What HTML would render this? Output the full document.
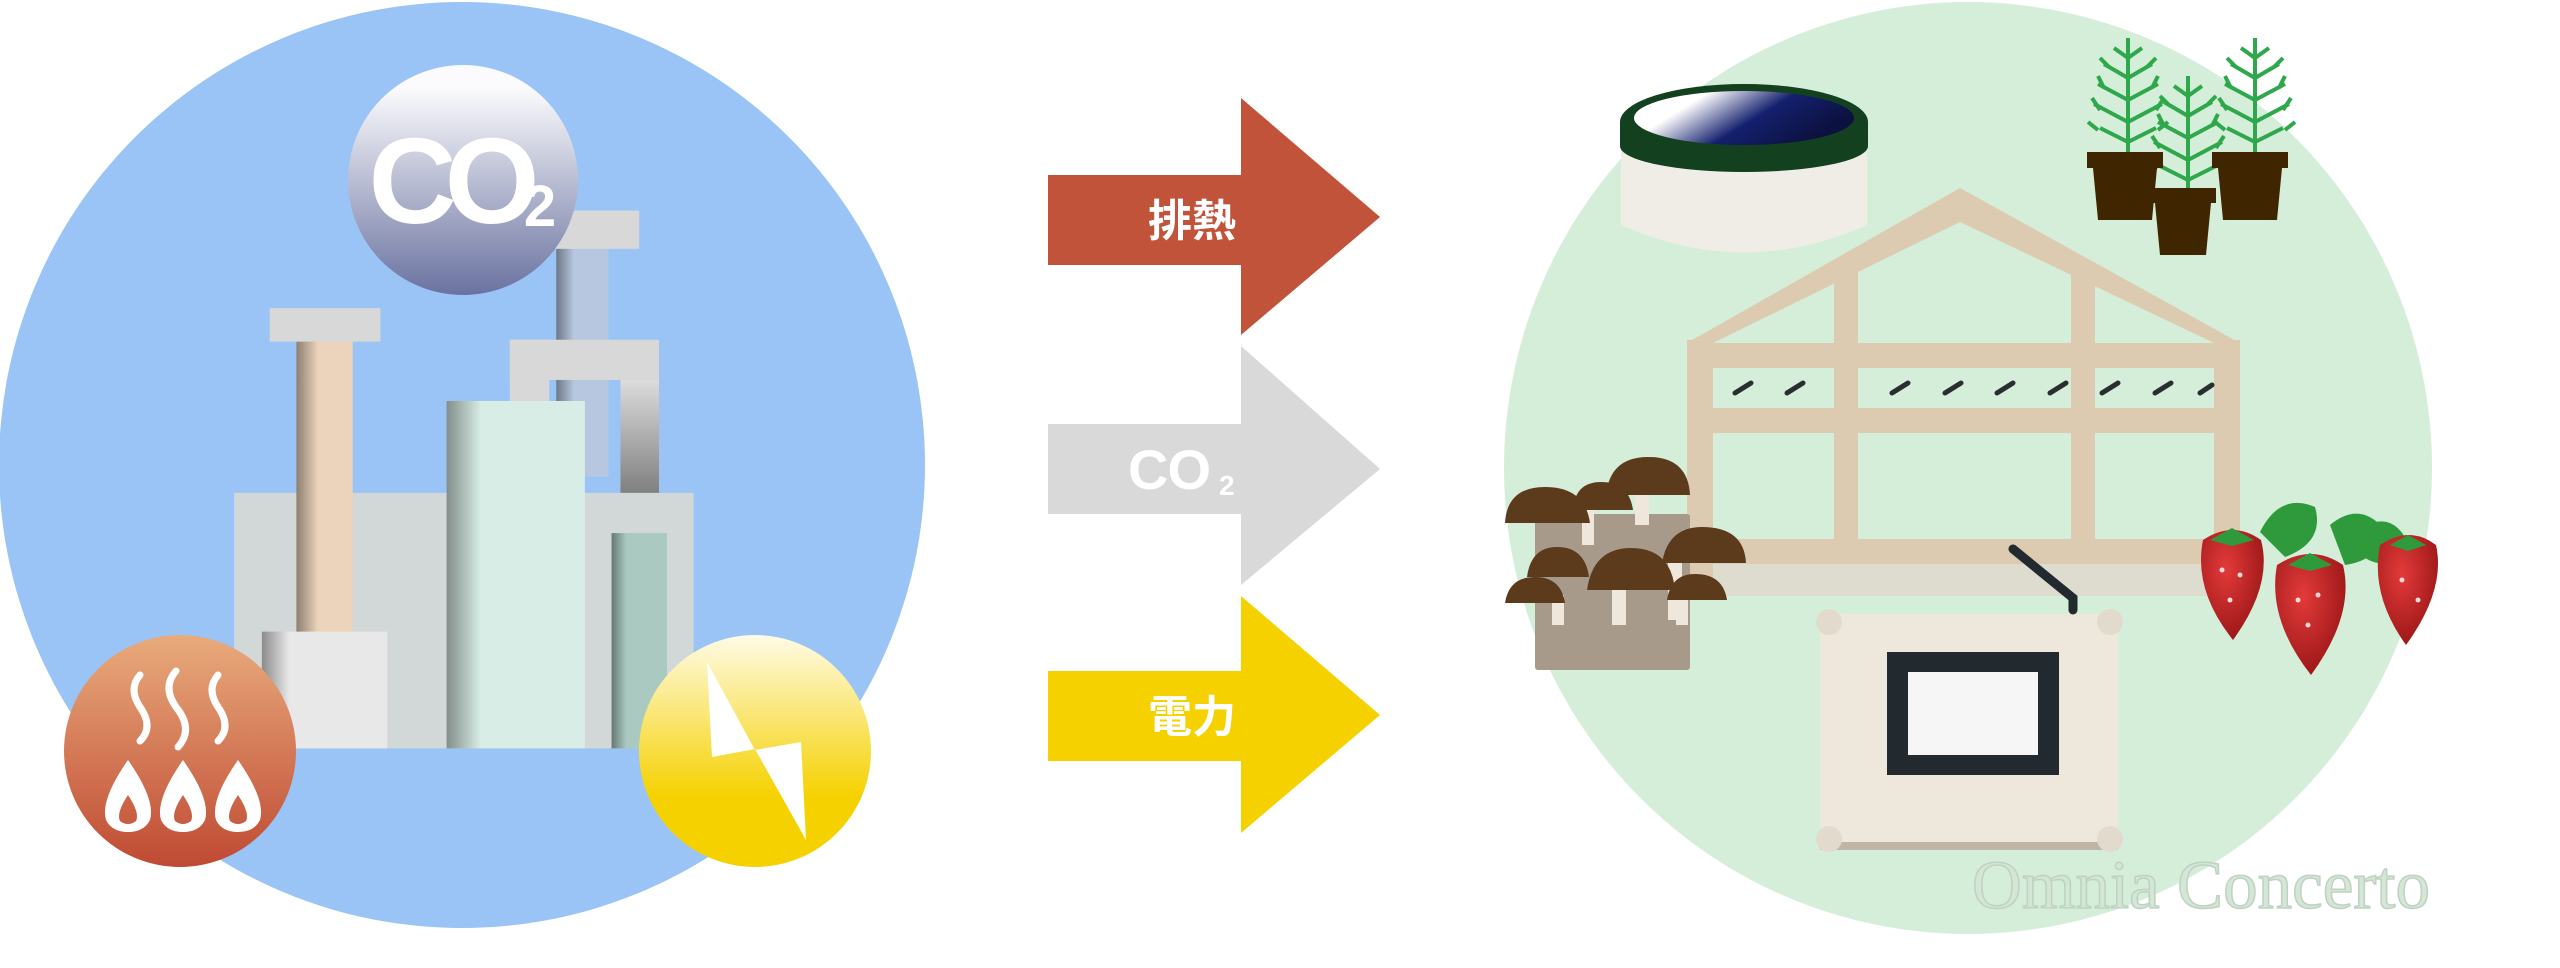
<!DOCTYPE html>
<html><head><meta charset="utf-8"><style>
html,body{margin:0;padding:0;background:#fff;}
svg{display:block}
</style></head><body>
<svg width="2560" height="968" viewBox="0 0 2560 968" xmlns="http://www.w3.org/2000/svg">
<defs>
<linearGradient id="co2g" x1="0" y1="0" x2="0" y2="1"><stop offset="0.1" stop-color="#fbfbfd"/><stop offset="1" stop-color="#6a72a0"/></linearGradient>
<linearGradient id="heatg" x1="0" y1="0" x2="0" y2="1"><stop offset="0" stop-color="#e9ab7c"/><stop offset="1" stop-color="#bf4a33"/></linearGradient>
<linearGradient id="powg" x1="0" y1="0" x2="0" y2="1"><stop offset="0" stop-color="#fffbe6"/><stop offset="0.7" stop-color="#f5d100"/><stop offset="1" stop-color="#f5d100"/></linearGradient>
<linearGradient id="pipeg" x1="0" y1="0" x2="0" y2="1"><stop offset="0" stop-color="#dcdcdc"/><stop offset="1" stop-color="#5f5f5f"/></linearGradient>
<linearGradient id="edgeL" x1="0" y1="0" x2="1" y2="0"><stop offset="0" stop-color="#000" stop-opacity="0.4"/><stop offset="1" stop-color="#000" stop-opacity="0"/></linearGradient>
<linearGradient id="water" x1="0" y1="0" x2="1" y2="0.4"><stop offset="0.3" stop-color="#ffffff"/><stop offset="0.65" stop-color="#14206e"/><stop offset="1" stop-color="#0c1140"/></linearGradient>
<radialGradient id="straw" cx="0.4" cy="0.35" r="0.8"><stop offset="0" stop-color="#e33a3a"/><stop offset="1" stop-color="#8e1010"/></radialGradient>
</defs>

<circle cx="462" cy="465" r="463" fill="#99c4f5"/>
<g transform="matrix(0.988 0 0 0.957 0 0)">
<rect x="563" y="248" width="53" height="250" fill="#b6c7df"/>
<rect x="563" y="248" width="18" height="250" fill="url(#edgeL)"/>
<rect x="555" y="220" width="92" height="40" fill="#d8d8d8"/>
<rect x="516" y="355" width="151" height="42" fill="#d8d8d8"/>
<rect x="516" y="355" width="40" height="70" fill="#d8d8d8"/>
<rect x="628" y="397" width="39" height="160" fill="url(#pipeg)"/>
<rect x="237" y="515" width="465" height="267" fill="#d2d8d8"/>
<rect x="300" y="355" width="57" height="310" fill="#ecd3bb"/>
<rect x="300" y="355" width="22" height="310" fill="url(#edgeL)"/>
<rect x="273" y="322" width="112" height="35" fill="#d8d8d8"/>
<rect x="265" y="660" width="127" height="122" fill="#e8e8e8"/>
<rect x="265" y="660" width="28" height="122" fill="url(#edgeL)"/>
<rect x="452" y="419" width="140" height="363" fill="#d9ede7"/>
<rect x="452" y="419" width="35" height="363" fill="url(#edgeL)"/>
<rect x="619" y="557" width="56" height="225" fill="#a9c9c1"/>
<rect x="619" y="557" width="15" height="225" fill="url(#edgeL)"/>
</g>
<circle cx="463" cy="180" r="115" fill="url(#co2g)"/>
<text x="448" y="223" font-family="Liberation Sans, sans-serif" font-weight="bold" font-size="122" fill="#fff" text-anchor="middle" letter-spacing="-12">CO</text>
<text x="540" y="226" font-family="Liberation Sans, sans-serif" font-weight="bold" font-size="58" fill="#fff" text-anchor="middle">2</text>
<g transform="translate(-2,-35)">
<circle cx="182" cy="786" r="116" fill="url(#heatg)"/>
<g fill="none" stroke="#fff" stroke-width="7" stroke-linecap="round">
<path d="M142 710 q-12 14 0 32 q14 20 0 34"/>
<path d="M178 706 q-14 16 0 36 q18 22 2 40"/>
<path d="M220 710 q-12 14 0 32 q14 20 0 34"/>
</g>
<g fill="#fff">
<path d="M130 795 q-28 40 -22 60 q6 12 22 12 q16 0 22 -12 q6 -20 -22 -60z M130 830 q-12 18 -8 26 q8 6 16 0 q4 -8 -8 -26z" fill-rule="evenodd"/>
<path d="M185 795 q-28 40 -22 60 q6 12 22 12 q16 0 22 -12 q6 -20 -22 -60z M185 830 q-12 18 -8 26 q8 6 16 0 q4 -8 -8 -26z" fill-rule="evenodd"/>
<path d="M240 795 q-28 40 -22 60 q6 12 22 12 q16 0 22 -12 q6 -20 -22 -60z M240 830 q-12 18 -8 26 q8 6 16 0 q4 -8 -8 -26z" fill-rule="evenodd"/>
</g>
</g>
<g transform="translate(-5,-35)">
<circle cx="760" cy="786" r="116" fill="url(#powg)"/>
<polygon points="712,697 717,792 760,784 811,875 806,777 760,785" fill="#fff"/>
</g>

<polygon points="1048,175 1241,175 1241,98 1380,217 1241,335 1241,265 1048,265" fill="#c0533a"/>
<text x="1192" y="236" font-family="Liberation Sans, 'Noto Sans CJK JP', sans-serif" font-weight="bold" font-size="44" fill="#fff" text-anchor="middle">排熱</text>
<polygon points="1048,424 1241,424 1241,346 1380,469 1241,585 1241,514 1048,514" fill="#d9d9d9"/>
<text x="1128" y="489" font-family="Liberation Sans, sans-serif" font-weight="bold" font-size="56" fill="#fff" letter-spacing="-1">CO</text>
<text x="1219" y="495" font-family="Liberation Sans, sans-serif" font-weight="bold" font-size="28" fill="#fff">2</text>
<polygon points="1048,671 1241,671 1241,596 1380,715 1241,833 1241,761 1048,761" fill="#f5d100"/>
<text x="1192" y="732" font-family="Liberation Sans, 'Noto Sans CJK JP', sans-serif" font-weight="bold" font-size="44" fill="#fff" text-anchor="middle">電力</text>

<ellipse cx="1968" cy="468" rx="464" ry="466" fill="#d4eeda"/>

<g fill="#dccbb0">
<polygon points="1687,343 1960,188 2240,343 2214,343 1960,222 1713,343"/>
<rect x="1687" y="340" width="26" height="256"/>
<rect x="2214" y="340" width="26" height="256"/>
<rect x="1834" y="262" width="24" height="334"/>
<rect x="2071" y="262" width="24" height="334"/>
<rect x="1687" y="343" width="553" height="25"/>
<rect x="1687" y="408" width="553" height="25"/>
<rect x="1687" y="539" width="553" height="25"/>
</g>
<rect x="1713" y="564" width="501" height="32" fill="#dedbcf"/>
<g stroke="#2a2e30" stroke-width="5" stroke-linecap="round">
<path d="M1735 393 l16 -10"/><path d="M1787 393 l16 -10"/><path d="M1892 393 l16 -10"/><path d="M1945 393 l16 -10"/><path d="M1997 393 l16 -10"/><path d="M2050 393 l16 -10"/><path d="M2102 393 l16 -10"/><path d="M2155 393 l16 -10"/><path d="M2200 393 l12 -8"/>
</g>

<path d="M1621 140 v85 q123 55 246 0 v-85z" fill="#efede6"/>
<ellipse cx="1744" cy="122" rx="124" ry="38" fill="#13401e"/>
<rect x="1620" y="122" width="248" height="24" fill="#13401e"/>
<ellipse cx="1744" cy="146" rx="124" ry="26" fill="#13401e"/>
<ellipse cx="1744" cy="118" rx="110" ry="27" fill="url(#water)"/>

<g stroke="#2ea84a" stroke-width="4" fill="none">
<g id="fern">
<path d="M2128 38 v120"/>
<path d="M2128 58 l-14 -10 M2128 58 l14 -10 M2128 78 l-24 -14 M2128 78 l24 -14 M2128 100 l-30 -16 M2128 100 l30 -16 M2128 122 l-34 -18 M2128 122 l34 -18 M2128 142 l-28 -14 M2128 142 l28 -14"/>
<path d="M2108 66 l-8 -8 M2148 66 l8 -8 M2104 88 l-6 -12 M2152 88 l6 -12 M2100 110 l-8 -12 M2156 110 l8 -12 M2098 130 l-10 -8 M2158 130 l10 -8"/>
</g>
<use href="#fern" x="127" y="0"/>
<use href="#fern" x="60" y="38"/>
</g>
<g fill="#402600">
<rect x="2087" y="152" width="76" height="16"/><path d="M2093 168 h64 l-5 52 h-54z"/>
<rect x="2212" y="152" width="76" height="16"/><path d="M2218 168 h64 l-5 52 h-54z"/>
<rect x="2150" y="188" width="66" height="15"/><path d="M2155 203 h56 l-5 52 h-46z"/>
</g>

<rect x="1535" y="514" width="155" height="156" rx="3" fill="#a89a8a"/>
<g fill="#efe7dc">
<rect x="1582" y="500" width="12" height="45"/><rect x="1635" y="475" width="14" height="50"/>
<rect x="1668" y="560" width="14" height="60"/><rect x="1552" y="595" width="12" height="30"/>
<rect x="1612" y="585" width="14" height="40"/><rect x="1676" y="600" width="12" height="25"/>
</g>
<g fill="#5c3a1c">
<path d="M1505 523 q2 -36 40 -36 q40 0 45 36z"/>
<path d="M1573 510 q2 -28 28 -28 q28 0 32 28z"/>
<path d="M1606 495 q4 -38 42 -38 q40 0 42 38z"/>
<path d="M1527 577 q4 -30 30 -30 q28 0 32 30z"/>
<path d="M1587 590 q6 -42 44 -42 q40 0 44 42z"/>
<path d="M1662 563 q6 -36 40 -36 q42 0 44 36z"/>
<path d="M1505 603 q4 -26 30 -26 q26 0 30 26z"/>
<path d="M1667 600 q4 -26 28 -26 q28 0 32 26z"/>
</g>

<g fill="#2f9a3c">
<path d="M2260 532 q20 -40 55 -25 q10 35 -30 50z"/><path d="M2330 525 q30 -25 55 5 q-5 30 -40 35z"/><path d="M2360 528 q35 -20 50 20 q-20 25 -45 10z"/>
</g>
<path d="M2203 540 q30 -20 58 0 q12 45 -28 100 q-40 -50 -30 -100z" fill="url(#straw)"/>
<path d="M2277 565 q34 -22 66 0 q12 50 -32 110 q-44 -56 -34 -110z" fill="url(#straw)"/>
<path d="M2380 545 q30 -20 56 0 q10 45 -30 100 q-36 -50 -26 -100z" fill="url(#straw)"/>
<g fill="#2f9a3c"><path d="M2210 540 l22 -12 22 12 -22 6z"/><path d="M2288 565 l22 -12 22 12 -22 6z"/><path d="M2390 545 l18 -10 18 10 -18 6z"/></g>
<g fill="#f4d8d8">
<circle cx="2222" cy="570" r="2.5"/><circle cx="2240" cy="575" r="2.5"/><circle cx="2230" cy="600" r="2.5"/><circle cx="2298" cy="600" r="2.5"/><circle cx="2318" cy="595" r="2.5"/><circle cx="2308" cy="625" r="2.5"/><circle cx="2402" cy="580" r="2.5"/><circle cx="2418" cy="600" r="2.5"/>
</g>

<rect x="1820" y="622" width="298" height="228" fill="#bfb6a8"/>
<rect x="1820" y="614" width="298" height="228" fill="#eee8dc"/>
<rect x="1887" y="652" width="172" height="123" fill="#222a30"/>
<rect x="1908" y="672" width="130" height="83" fill="#f6f6f6"/>
<circle cx="1829" cy="622" r="13" fill="#e2dbcd"/><circle cx="2110" cy="622" r="13" fill="#e2dbcd"/>
<circle cx="1829" cy="839" r="13" fill="#e2dbcd"/><circle cx="2110" cy="839" r="13" fill="#e2dbcd"/>
<path d="M2013 549 L2073 598 v12" stroke="#222a30" stroke-width="9" stroke-linecap="round" fill="none"/>

<text x="1972" y="908" font-family="Liberation Serif, serif" font-size="69" fill="#d4e6d6" stroke="#bfd2c1" stroke-width="1.5">Omnia Concerto</text>
</svg>
</body></html>
